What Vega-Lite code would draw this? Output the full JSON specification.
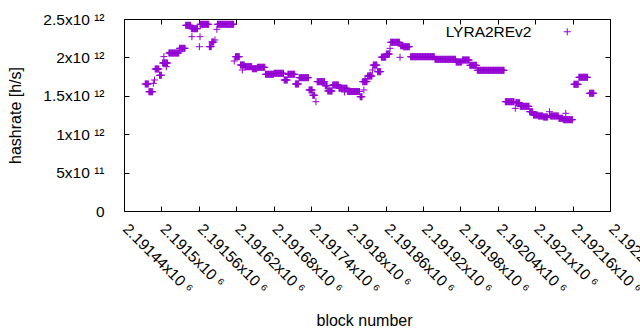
{
"$schema": "https://vega.github.io/schema/vega-lite/v6.json",
"width": 486, "height": 192,
"autosize": {"type": "none"},
"padding": {"left": 124, "top": 19, "right": 30, "bottom": 119},
"background": "white",
"config": {
 "view": {"stroke": "black", "strokeWidth": 1},
 "font": "Liberation Sans",
 "axis": {"domain": false, "grid": false, "tickColor": "black", "tickWidth": 1, "tickSize": -5, "labelColor": "black", "labelFont": "Liberation Sans", "labelFontSize": 15.5, "titleFont": "Liberation Sans", "titleFontSize": 16, "titleFontWeight": "normal", "titleColor": "black"}
},
"data": {"values": [
{"b":2191474,"h":1.654e12},{"b":2191475,"h":1.654e12},{"b":2191476,"h":1.654e12},{"b":2191477,"h":1.654e12},{"b":2191478,"h":1.654e12},{"b":2191479,"h":1.654e12},
{"b":2191480,"h":1.553e12},{"b":2191481,"h":1.553e12},{"b":2191482,"h":1.553e12},{"b":2191483,"h":1.553e12},{"b":2191484,"h":1.553e12},{"b":2191485,"h":1.553e12},{"b":2191486,"h":1.553e12},
{"b":2191487,"h":1.663e12},{"b":2191489,"h":1.706e12},
{"b":2191490,"h":1.849e12},{"b":2191491,"h":1.849e12},{"b":2191492,"h":1.849e12},{"b":2191493,"h":1.849e12},{"b":2191494,"h":1.849e12},{"b":2191495,"h":1.849e12},{"b":2191496,"h":1.849e12},
{"b":2191497,"h":1.767e12},{"b":2191498,"h":1.767e12},{"b":2191499,"h":1.767e12},{"b":2191500,"h":1.767e12},
{"b":2191504,"h":2.01e12},
{"b":2191502,"h":1.927e12},{"b":2191503,"h":1.927e12},{"b":2191504,"h":1.927e12},{"b":2191505,"h":1.927e12},{"b":2191506,"h":1.927e12},{"b":2191507,"h":1.927e12},{"b":2191508,"h":1.927e12},{"b":2191509,"h":1.927e12},{"b":2191510,"h":1.927e12},{"b":2191508,"h":1.879e12},
{"b":2191512,"h":2.057e12},{"b":2191513,"h":2.057e12},{"b":2191514,"h":2.057e12},{"b":2191515,"h":2.057e12},{"b":2191516,"h":2.057e12},{"b":2191517,"h":2.057e12},{"b":2191518,"h":2.057e12},{"b":2191519,"h":2.057e12},{"b":2191520,"h":2.057e12},{"b":2191521,"h":2.057e12},{"b":2191522,"h":2.057e12},{"b":2191523,"h":2.057e12},{"b":2191524,"h":2.057e12},{"b":2191525,"h":2.057e12},{"b":2191526,"h":2.057e12},{"b":2191527,"h":2.057e12},{"b":2191528,"h":2.057e12},
{"b":2191529,"h":2.118e12},{"b":2191530,"h":2.118e12},{"b":2191531,"h":2.118e12},{"b":2191532,"h":2.118e12},{"b":2191533,"h":2.118e12},{"b":2191534,"h":2.118e12},{"b":2191535,"h":2.118e12},{"b":2191536,"h":2.118e12},{"b":2191537,"h":2.118e12},{"b":2191538,"h":2.118e12},
{"b":2191539,"h":2.418e12},{"b":2191540,"h":2.418e12},{"b":2191541,"h":2.418e12},{"b":2191542,"h":2.418e12},{"b":2191543,"h":2.418e12},{"b":2191544,"h":2.418e12},{"b":2191545,"h":2.418e12},{"b":2191546,"h":2.418e12},{"b":2191547,"h":2.418e12},
{"b":2191549,"h":2.27e12},
{"b":2191548,"h":2.374e12},{"b":2191549,"h":2.374e12},{"b":2191550,"h":2.374e12},{"b":2191551,"h":2.374e12},{"b":2191552,"h":2.374e12},{"b":2191553,"h":2.374e12},{"b":2191554,"h":2.374e12},{"b":2191555,"h":2.374e12},{"b":2191556,"h":2.374e12},{"b":2191557,"h":2.374e12},{"b":2191558,"h":2.374e12},
{"b":2191562,"h":2.27e12},{"b":2191561,"h":2.139e12},
{"b":2191562,"h":2.431e12},{"b":2191563,"h":2.431e12},{"b":2191564,"h":2.431e12},{"b":2191565,"h":2.431e12},{"b":2191566,"h":2.431e12},{"b":2191567,"h":2.431e12},{"b":2191568,"h":2.431e12},{"b":2191569,"h":2.431e12},{"b":2191570,"h":2.431e12},{"b":2191571,"h":2.431e12},{"b":2191572,"h":2.431e12},{"b":2191573,"h":2.431e12},{"b":2191574,"h":2.431e12},{"b":2191575,"h":2.431e12},{"b":2191576,"h":2.431e12},
{"b":2191577,"h":2.14e12},{"b":2191578,"h":2.14e12},{"b":2191579,"h":2.14e12},{"b":2191580,"h":2.14e12},
{"b":2191581,"h":2.2e12},{"b":2191582,"h":2.2e12},{"b":2191583,"h":2.2e12},{"b":2191584,"h":2.2e12},
{"b":2191586,"h":2.227e12},{"b":2191589,"h":2.366e12},
{"b":2191590,"h":2.431e12},{"b":2191591,"h":2.431e12},{"b":2191592,"h":2.431e12},{"b":2191593,"h":2.431e12},{"b":2191594,"h":2.431e12},{"b":2191595,"h":2.431e12},{"b":2191596,"h":2.431e12},{"b":2191597,"h":2.431e12},{"b":2191598,"h":2.431e12},{"b":2191599,"h":2.431e12},{"b":2191600,"h":2.431e12},{"b":2191601,"h":2.431e12},{"b":2191602,"h":2.431e12},{"b":2191603,"h":2.431e12},{"b":2191604,"h":2.431e12},{"b":2191605,"h":2.431e12},{"b":2191606,"h":2.431e12},{"b":2191607,"h":2.431e12},{"b":2191608,"h":2.431e12},{"b":2191609,"h":2.431e12},{"b":2191610,"h":2.431e12},{"b":2191611,"h":2.431e12},{"b":2191612,"h":2.431e12},{"b":2191613,"h":2.431e12},{"b":2191614,"h":2.431e12},{"b":2191615,"h":2.431e12},{"b":2191616,"h":2.431e12},
{"b":2191617,"h":1.953e12},
{"b":2191619,"h":2.009e12},{"b":2191620,"h":2.009e12},{"b":2191621,"h":2.009e12},{"b":2191622,"h":2.009e12},{"b":2191623,"h":2.009e12},{"b":2191624,"h":2.009e12},{"b":2191625,"h":2.009e12},
{"b":2191627,"h":1.901e12},{"b":2191628,"h":1.901e12},{"b":2191629,"h":1.901e12},{"b":2191630,"h":1.901e12},{"b":2191631,"h":1.901e12},{"b":2191632,"h":1.901e12},{"b":2191633,"h":1.901e12},{"b":2191630,"h":1.836e12},
{"b":2191634,"h":1.879e12},{"b":2191635,"h":1.879e12},{"b":2191636,"h":1.879e12},{"b":2191637,"h":1.879e12},{"b":2191638,"h":1.879e12},{"b":2191639,"h":1.879e12},{"b":2191640,"h":1.879e12},{"b":2191641,"h":1.879e12},{"b":2191642,"h":1.879e12},{"b":2191643,"h":1.879e12},{"b":2191644,"h":1.879e12},{"b":2191645,"h":1.879e12},
{"b":2191646,"h":1.853e12},{"b":2191647,"h":1.853e12},{"b":2191648,"h":1.853e12},{"b":2191649,"h":1.853e12},{"b":2191650,"h":1.853e12},{"b":2191651,"h":1.853e12},{"b":2191652,"h":1.853e12},{"b":2191653,"h":1.853e12},
{"b":2191654,"h":1.871e12},{"b":2191655,"h":1.871e12},{"b":2191656,"h":1.871e12},{"b":2191657,"h":1.871e12},{"b":2191658,"h":1.871e12},{"b":2191659,"h":1.871e12},{"b":2191660,"h":1.871e12},{"b":2191661,"h":1.871e12},{"b":2191662,"h":1.871e12},{"b":2191663,"h":1.871e12},{"b":2191664,"h":1.871e12},{"b":2191665,"h":1.871e12},{"b":2191666,"h":1.871e12},
{"b":2191667,"h":1.78e12},{"b":2191668,"h":1.78e12},{"b":2191669,"h":1.78e12},{"b":2191670,"h":1.78e12},{"b":2191671,"h":1.78e12},{"b":2191672,"h":1.78e12},{"b":2191673,"h":1.78e12},{"b":2191674,"h":1.78e12},{"b":2191675,"h":1.78e12},{"b":2191676,"h":1.78e12},{"b":2191677,"h":1.78e12},{"b":2191678,"h":1.78e12},{"b":2191679,"h":1.78e12},{"b":2191680,"h":1.78e12},
{"b":2191681,"h":1.793e12},{"b":2191682,"h":1.793e12},{"b":2191683,"h":1.793e12},{"b":2191684,"h":1.793e12},{"b":2191685,"h":1.793e12},{"b":2191686,"h":1.793e12},{"b":2191687,"h":1.793e12},{"b":2191688,"h":1.793e12},{"b":2191689,"h":1.793e12},{"b":2191690,"h":1.793e12},{"b":2191691,"h":1.793e12},{"b":2191692,"h":1.793e12},{"b":2191693,"h":1.793e12},{"b":2191694,"h":1.793e12},{"b":2191695,"h":1.793e12},{"b":2191696,"h":1.793e12},
{"b":2191697,"h":1.706e12},{"b":2191698,"h":1.706e12},{"b":2191699,"h":1.706e12},{"b":2191700,"h":1.706e12},{"b":2191701,"h":1.706e12},{"b":2191702,"h":1.706e12},
{"b":2191703,"h":1.78e12},{"b":2191704,"h":1.78e12},{"b":2191705,"h":1.78e12},{"b":2191706,"h":1.78e12},{"b":2191707,"h":1.78e12},{"b":2191708,"h":1.78e12},{"b":2191709,"h":1.78e12},{"b":2191710,"h":1.78e12},{"b":2191711,"h":1.78e12},{"b":2191712,"h":1.78e12},{"b":2191713,"h":1.78e12},{"b":2191714,"h":1.78e12},
{"b":2191715,"h":1.654e12},{"b":2191716,"h":1.654e12},{"b":2191717,"h":1.654e12},{"b":2191718,"h":1.654e12},{"b":2191719,"h":1.654e12},{"b":2191720,"h":1.654e12},
{"b":2191721,"h":1.736e12},{"b":2191722,"h":1.736e12},{"b":2191723,"h":1.736e12},{"b":2191724,"h":1.736e12},{"b":2191725,"h":1.736e12},{"b":2191726,"h":1.736e12},{"b":2191727,"h":1.736e12},{"b":2191728,"h":1.736e12},{"b":2191729,"h":1.736e12},{"b":2191730,"h":1.736e12},{"b":2191731,"h":1.736e12},{"b":2191732,"h":1.736e12},{"b":2191733,"h":1.736e12},{"b":2191734,"h":1.736e12},{"b":2191735,"h":1.736e12},{"b":2191736,"h":1.736e12},
{"b":2191737,"h":1.576e12},{"b":2191738,"h":1.576e12},{"b":2191739,"h":1.576e12},{"b":2191740,"h":1.576e12},{"b":2191741,"h":1.576e12},{"b":2191742,"h":1.576e12},
{"b":2191743,"h":1.507e12},{"b":2191744,"h":1.507e12},{"b":2191745,"h":1.507e12},{"b":2191746,"h":1.507e12},
{"b":2191748,"h":1.423e12},
{"b":2191750,"h":1.684e12},{"b":2191751,"h":1.684e12},{"b":2191752,"h":1.684e12},{"b":2191753,"h":1.684e12},{"b":2191754,"h":1.684e12},{"b":2191755,"h":1.684e12},{"b":2191756,"h":1.684e12},{"b":2191757,"h":1.684e12},{"b":2191758,"h":1.684e12},{"b":2191759,"h":1.684e12},{"b":2191760,"h":1.684e12},{"b":2191761,"h":1.684e12},{"b":2191762,"h":1.684e12},
{"b":2191763,"h":1.63e12},{"b":2191764,"h":1.63e12},{"b":2191765,"h":1.63e12},{"b":2191766,"h":1.63e12},
{"b":2191767,"h":1.563e12},{"b":2191768,"h":1.563e12},{"b":2191769,"h":1.563e12},{"b":2191770,"h":1.563e12},{"b":2191771,"h":1.563e12},{"b":2191772,"h":1.563e12},{"b":2191773,"h":1.563e12},{"b":2191774,"h":1.563e12},
{"b":2191775,"h":1.641e12},{"b":2191776,"h":1.641e12},{"b":2191777,"h":1.641e12},{"b":2191778,"h":1.641e12},{"b":2191779,"h":1.641e12},{"b":2191780,"h":1.641e12},{"b":2191781,"h":1.641e12},{"b":2191782,"h":1.641e12},{"b":2191783,"h":1.641e12},{"b":2191784,"h":1.641e12},
{"b":2191785,"h":1.598e12},{"b":2191786,"h":1.598e12},{"b":2191787,"h":1.598e12},{"b":2191788,"h":1.598e12},{"b":2191789,"h":1.598e12},{"b":2191790,"h":1.598e12},{"b":2191791,"h":1.598e12},{"b":2191792,"h":1.598e12},{"b":2191793,"h":1.598e12},{"b":2191794,"h":1.598e12},{"b":2191795,"h":1.598e12},{"b":2191796,"h":1.598e12},{"b":2191797,"h":1.598e12},{"b":2191798,"h":1.598e12},{"b":2191794,"h":1.55e12},
{"b":2191799,"h":1.556e12},{"b":2191800,"h":1.556e12},{"b":2191801,"h":1.556e12},{"b":2191802,"h":1.556e12},{"b":2191803,"h":1.556e12},{"b":2191804,"h":1.556e12},{"b":2191805,"h":1.556e12},{"b":2191806,"h":1.556e12},{"b":2191807,"h":1.556e12},{"b":2191808,"h":1.556e12},{"b":2191809,"h":1.556e12},{"b":2191810,"h":1.556e12},{"b":2191811,"h":1.556e12},{"b":2191812,"h":1.556e12},{"b":2191813,"h":1.556e12},{"b":2191814,"h":1.556e12},{"b":2191815,"h":1.556e12},{"b":2191816,"h":1.556e12},{"b":2191817,"h":1.556e12},{"b":2191818,"h":1.556e12},
{"b":2191819,"h":1.488e12},{"b":2191820,"h":1.488e12},{"b":2191821,"h":1.488e12},{"b":2191822,"h":1.488e12},
{"b":2191825,"h":1.576e12},
{"b":2191823,"h":1.684e12},{"b":2191824,"h":1.684e12},{"b":2191825,"h":1.684e12},{"b":2191826,"h":1.684e12},{"b":2191827,"h":1.684e12},{"b":2191828,"h":1.684e12},{"b":2191829,"h":1.684e12},{"b":2191830,"h":1.684e12},{"b":2191827,"h":1.706e12},
{"b":2191831,"h":1.758e12},{"b":2191832,"h":1.758e12},{"b":2191833,"h":1.758e12},{"b":2191834,"h":1.758e12},{"b":2191835,"h":1.758e12},{"b":2191836,"h":1.758e12},{"b":2191837,"h":1.758e12},{"b":2191838,"h":1.758e12},{"b":2191835,"h":1.771e12},{"b":2191839,"h":1.836e12},
{"b":2191840,"h":1.9e12},{"b":2191841,"h":1.9e12},{"b":2191842,"h":1.9e12},{"b":2191843,"h":1.9e12},{"b":2191844,"h":1.9e12},{"b":2191845,"h":1.9e12},{"b":2191846,"h":1.9e12},
{"b":2191847,"h":1.814e12},{"b":2191848,"h":1.814e12},{"b":2191849,"h":1.814e12},{"b":2191850,"h":1.814e12},{"b":2191851,"h":1.814e12},{"b":2191852,"h":1.814e12},
{"b":2191853,"h":2.003e12},{"b":2191854,"h":2.003e12},{"b":2191855,"h":2.003e12},{"b":2191856,"h":2.003e12},{"b":2191857,"h":2.003e12},{"b":2191858,"h":2.003e12},{"b":2191859,"h":2.003e12},{"b":2191860,"h":2.003e12},
{"b":2191861,"h":2.044e12},{"b":2191862,"h":2.044e12},{"b":2191863,"h":2.044e12},{"b":2191864,"h":2.044e12},{"b":2191865,"h":2.044e12},{"b":2191866,"h":2.044e12},
{"b":2191867,"h":2.118e12},
{"b":2191868,"h":2.197e12},{"b":2191869,"h":2.197e12},{"b":2191870,"h":2.197e12},{"b":2191871,"h":2.197e12},{"b":2191872,"h":2.197e12},{"b":2191873,"h":2.197e12},{"b":2191874,"h":2.197e12},{"b":2191875,"h":2.197e12},{"b":2191876,"h":2.197e12},{"b":2191877,"h":2.197e12},{"b":2191878,"h":2.197e12},{"b":2191879,"h":2.197e12},{"b":2191880,"h":2.197e12},{"b":2191881,"h":2.197e12},{"b":2191882,"h":2.197e12},
{"b":2191883,"h":2.001e12},
{"b":2191884,"h":2.151e12},{"b":2191885,"h":2.151e12},{"b":2191886,"h":2.151e12},{"b":2191887,"h":2.151e12},{"b":2191888,"h":2.151e12},
{"b":2191889,"h":2.139e12},{"b":2191890,"h":2.139e12},{"b":2191891,"h":2.139e12},{"b":2191892,"h":2.139e12},{"b":2191893,"h":2.139e12},{"b":2191894,"h":2.139e12},{"b":2191895,"h":2.139e12},{"b":2191896,"h":2.139e12},{"b":2191897,"h":2.139e12},{"b":2191898,"h":2.139e12},
{"b":2191900,"h":2.009e12},{"b":2191901,"h":2.009e12},{"b":2191902,"h":2.009e12},{"b":2191903,"h":2.009e12},{"b":2191904,"h":2.009e12},{"b":2191905,"h":2.009e12},{"b":2191906,"h":2.009e12},{"b":2191907,"h":2.009e12},{"b":2191908,"h":2.009e12},{"b":2191909,"h":2.009e12},{"b":2191910,"h":2.009e12},{"b":2191911,"h":2.009e12},{"b":2191912,"h":2.009e12},{"b":2191913,"h":2.009e12},{"b":2191914,"h":2.009e12},{"b":2191915,"h":2.009e12},{"b":2191916,"h":2.009e12},{"b":2191917,"h":2.009e12},{"b":2191918,"h":2.009e12},{"b":2191919,"h":2.009e12},{"b":2191920,"h":2.009e12},{"b":2191921,"h":2.009e12},{"b":2191922,"h":2.009e12},{"b":2191923,"h":2.009e12},{"b":2191924,"h":2.009e12},{"b":2191925,"h":2.009e12},{"b":2191926,"h":2.009e12},{"b":2191927,"h":2.009e12},{"b":2191928,"h":2.009e12},{"b":2191929,"h":2.009e12},{"b":2191930,"h":2.009e12},{"b":2191931,"h":2.009e12},{"b":2191932,"h":2.009e12},{"b":2191933,"h":2.009e12},{"b":2191934,"h":2.009e12},{"b":2191935,"h":2.009e12},{"b":2191936,"h":2.009e12},{"b":2191937,"h":2.009e12},{"b":2191938,"h":2.009e12},
{"b":2191939,"h":1.975e12},{"b":2191940,"h":1.975e12},{"b":2191941,"h":1.975e12},{"b":2191942,"h":1.975e12},{"b":2191943,"h":1.975e12},{"b":2191944,"h":1.975e12},{"b":2191945,"h":1.975e12},{"b":2191946,"h":1.975e12},{"b":2191947,"h":1.975e12},{"b":2191948,"h":1.975e12},{"b":2191949,"h":1.975e12},{"b":2191950,"h":1.975e12},{"b":2191951,"h":1.975e12},{"b":2191952,"h":1.975e12},{"b":2191953,"h":1.975e12},{"b":2191954,"h":1.975e12},{"b":2191955,"h":1.975e12},{"b":2191956,"h":1.975e12},{"b":2191957,"h":1.975e12},{"b":2191958,"h":1.975e12},{"b":2191959,"h":1.975e12},{"b":2191960,"h":1.975e12},{"b":2191961,"h":1.975e12},{"b":2191962,"h":1.975e12},{"b":2191963,"h":1.975e12},{"b":2191964,"h":1.975e12},{"b":2191965,"h":1.975e12},{"b":2191966,"h":1.975e12},{"b":2191967,"h":1.975e12},{"b":2191968,"h":1.975e12},{"b":2191969,"h":1.975e12},{"b":2191970,"h":1.975e12},{"b":2191971,"h":1.975e12},{"b":2191972,"h":1.975e12},
{"b":2191973,"h":1.94e12},{"b":2191974,"h":1.94e12},{"b":2191975,"h":1.94e12},{"b":2191976,"h":1.94e12},{"b":2191977,"h":1.94e12},{"b":2191978,"h":1.94e12},{"b":2191979,"h":1.94e12},{"b":2191980,"h":1.94e12},{"b":2191981,"h":1.94e12},{"b":2191982,"h":1.94e12},
{"b":2191983,"h":1.966e12},{"b":2191984,"h":1.966e12},{"b":2191985,"h":1.966e12},{"b":2191986,"h":1.966e12},{"b":2191987,"h":1.966e12},{"b":2191988,"h":1.966e12},{"b":2191989,"h":1.966e12},{"b":2191990,"h":1.966e12},{"b":2191991,"h":1.966e12},{"b":2191992,"h":1.966e12},{"b":2191993,"h":1.966e12},{"b":2191994,"h":1.966e12},
{"b":2191995,"h":1.897e12},{"b":2191996,"h":1.897e12},{"b":2191997,"h":1.897e12},{"b":2191998,"h":1.897e12},{"b":2191999,"h":1.897e12},{"b":2192000,"h":1.897e12},{"b":2192001,"h":1.897e12},{"b":2192002,"h":1.897e12},{"b":2192003,"h":1.897e12},{"b":2192004,"h":1.897e12},{"b":2192005,"h":1.897e12},{"b":2192006,"h":1.897e12},
{"b":2192007,"h":1.832e12},{"b":2192008,"h":1.832e12},{"b":2192009,"h":1.832e12},{"b":2192010,"h":1.832e12},{"b":2192011,"h":1.832e12},{"b":2192012,"h":1.832e12},{"b":2192013,"h":1.832e12},{"b":2192014,"h":1.832e12},{"b":2192015,"h":1.832e12},{"b":2192016,"h":1.832e12},{"b":2192017,"h":1.832e12},{"b":2192018,"h":1.832e12},{"b":2192019,"h":1.832e12},{"b":2192020,"h":1.832e12},{"b":2192021,"h":1.832e12},{"b":2192022,"h":1.832e12},{"b":2192023,"h":1.832e12},{"b":2192024,"h":1.832e12},{"b":2192025,"h":1.832e12},{"b":2192026,"h":1.832e12},{"b":2192027,"h":1.832e12},{"b":2192028,"h":1.832e12},{"b":2192029,"h":1.832e12},{"b":2192030,"h":1.832e12},{"b":2192031,"h":1.832e12},{"b":2192032,"h":1.832e12},{"b":2192033,"h":1.832e12},{"b":2192034,"h":1.832e12},{"b":2192035,"h":1.832e12},{"b":2192036,"h":1.832e12},{"b":2192037,"h":1.832e12},{"b":2192038,"h":1.832e12},{"b":2192039,"h":1.832e12},{"b":2192040,"h":1.832e12},{"b":2192041,"h":1.832e12},{"b":2192042,"h":1.832e12},{"b":2192043,"h":1.832e12},{"b":2192044,"h":1.832e12},{"b":2192045,"h":1.832e12},{"b":2192046,"h":1.832e12},{"b":2192047,"h":1.832e12},{"b":2192048,"h":1.832e12},{"b":2192049,"h":1.832e12},{"b":2192050,"h":1.832e12},
{"b":2192052,"h":1.423e12},{"b":2192053,"h":1.423e12},{"b":2192054,"h":1.423e12},{"b":2192055,"h":1.423e12},{"b":2192056,"h":1.423e12},{"b":2192057,"h":1.423e12},{"b":2192058,"h":1.423e12},{"b":2192059,"h":1.423e12},{"b":2192060,"h":1.423e12},{"b":2192061,"h":1.423e12},{"b":2192062,"h":1.423e12},{"b":2192063,"h":1.423e12},{"b":2192064,"h":1.423e12},{"b":2192065,"h":1.423e12},{"b":2192066,"h":1.423e12},
{"b":2192068,"h":1.337e12},
{"b":2192069,"h":1.41e12},{"b":2192070,"h":1.41e12},{"b":2192071,"h":1.41e12},{"b":2192072,"h":1.41e12},{"b":2192073,"h":1.41e12},{"b":2192074,"h":1.41e12},{"b":2192075,"h":1.41e12},
{"b":2192076,"h":1.363e12},{"b":2192077,"h":1.363e12},{"b":2192078,"h":1.363e12},{"b":2192079,"h":1.363e12},{"b":2192080,"h":1.363e12},{"b":2192081,"h":1.363e12},{"b":2192082,"h":1.363e12},{"b":2192083,"h":1.363e12},{"b":2192084,"h":1.363e12},{"b":2192085,"h":1.363e12},{"b":2192086,"h":1.363e12},{"b":2192087,"h":1.363e12},{"b":2192088,"h":1.363e12},{"b":2192089,"h":1.363e12},{"b":2192090,"h":1.363e12},
{"b":2192091,"h":1.293e12},{"b":2192092,"h":1.293e12},{"b":2192093,"h":1.293e12},{"b":2192094,"h":1.293e12},{"b":2192095,"h":1.293e12},{"b":2192096,"h":1.293e12},
{"b":2192097,"h":1.25e12},{"b":2192098,"h":1.25e12},{"b":2192099,"h":1.25e12},{"b":2192100,"h":1.25e12},{"b":2192101,"h":1.25e12},{"b":2192102,"h":1.25e12},{"b":2192103,"h":1.25e12},{"b":2192104,"h":1.25e12},
{"b":2192105,"h":1.237e12},{"b":2192106,"h":1.237e12},{"b":2192107,"h":1.237e12},{"b":2192108,"h":1.237e12},{"b":2192109,"h":1.237e12},{"b":2192110,"h":1.237e12},{"b":2192111,"h":1.237e12},{"b":2192112,"h":1.237e12},
{"b":2192113,"h":1.224e12},{"b":2192114,"h":1.224e12},{"b":2192115,"h":1.224e12},{"b":2192116,"h":1.224e12},{"b":2192117,"h":1.224e12},{"b":2192118,"h":1.224e12},{"b":2192119,"h":1.224e12},{"b":2192120,"h":1.224e12},
{"b":2192123,"h":1.293e12},
{"b":2192124,"h":1.237e12},{"b":2192125,"h":1.237e12},{"b":2192126,"h":1.237e12},{"b":2192127,"h":1.237e12},{"b":2192128,"h":1.237e12},{"b":2192129,"h":1.237e12},{"b":2192130,"h":1.237e12},{"b":2192131,"h":1.237e12},{"b":2192132,"h":1.237e12},{"b":2192133,"h":1.237e12},{"b":2192134,"h":1.237e12},{"b":2192135,"h":1.237e12},{"b":2192136,"h":1.237e12},{"b":2192137,"h":1.237e12},
{"b":2192138,"h":1.207e12},{"b":2192139,"h":1.207e12},{"b":2192140,"h":1.207e12},{"b":2192141,"h":1.207e12},{"b":2192142,"h":1.207e12},{"b":2192143,"h":1.207e12},{"b":2192144,"h":1.207e12},
{"b":2192149,"h":1.272e12},
{"b":2192145,"h":1.189e12},{"b":2192146,"h":1.189e12},{"b":2192147,"h":1.189e12},{"b":2192148,"h":1.189e12},{"b":2192149,"h":1.189e12},{"b":2192150,"h":1.189e12},{"b":2192151,"h":1.189e12},{"b":2192152,"h":1.189e12},{"b":2192153,"h":1.189e12},{"b":2192154,"h":1.189e12},{"b":2192155,"h":1.189e12},{"b":2192156,"h":1.189e12},{"b":2192157,"h":1.189e12},{"b":2192158,"h":1.189e12},{"b":2192159,"h":1.189e12},{"b":2192160,"h":1.189e12},
{"b":2192162,"h":1.65e12},{"b":2192163,"h":1.65e12},{"b":2192164,"h":1.65e12},{"b":2192165,"h":1.65e12},{"b":2192166,"h":1.65e12},{"b":2192167,"h":1.65e12},{"b":2192168,"h":1.65e12},{"b":2192169,"h":1.65e12},
{"b":2192170,"h":1.741e12},{"b":2192171,"h":1.741e12},{"b":2192172,"h":1.741e12},{"b":2192173,"h":1.741e12},{"b":2192174,"h":1.741e12},{"b":2192175,"h":1.741e12},{"b":2192176,"h":1.741e12},{"b":2192177,"h":1.741e12},{"b":2192178,"h":1.741e12},{"b":2192179,"h":1.741e12},{"b":2192180,"h":1.741e12},{"b":2192181,"h":1.741e12},{"b":2192182,"h":1.741e12},{"b":2192183,"h":1.741e12},{"b":2192184,"h":1.741e12},
{"b":2192187,"h":1.533e12},{"b":2192188,"h":1.533e12},{"b":2192189,"h":1.533e12},{"b":2192190,"h":1.533e12},{"b":2192191,"h":1.533e12},{"b":2192192,"h":1.533e12},{"b":2192193,"h":1.533e12},{"b":2192194,"h":1.533e12}
]},
"layer": [
 {
  "mark": {"type": "point", "shape": "M-1,0L1,0M0,-1L0,1", "size": 49, "strokeWidth": 1, "filled": false, "opacity": 1},
  "encoding": {
   "x": {"field": "b", "type": "quantitative",
     "scale": {"domain": [2191440, 2192220], "nice": false, "zero": false},
     "axis": {"orient": "bottom", "values": [2191440,2191500,2191560,2191620,2191680,2191740,2191800,2191860,2191920,2191980,2192040,2192100,2192160,2192220],
       "labelExpr": "format(datum.value/1e6,'.5~f')+'x10 ⁶'", "labelAngle": 45, "labelAlign": "left", "labelBaseline": "top",
       "labelOverlap": false, "labelBound": false, "labelFlush": false, "labelPadding": 15, "labelOffset": 6,
       "title": "block number", "titleX": 240, "titleY": 114, "titleBaseline": "alphabetic", "titleAlign": "center"}},
   "y": {"field": "h", "type": "quantitative",
     "scale": {"domain": [0, 2.5e12], "nice": false},
     "axis": {"orient": "left", "values": [0, 5e11, 1e12, 1.5e12, 2e12, 2.5e12],
       "labelExpr": "datum.value==0?'0':(datum.value<1e12?'5x10 ¹¹':format(datum.value/1e12,'~g')+'x10 ¹²')",
       "labelPadding": 25, "labelBaseline": "middle",
       "title": "hashrate [h/s]", "titleX": -103.5, "titleY": 96, "titleAngle": -90, "titleBaseline": "alphabetic", "titleAlign": "center"}},
   "color": {"datum": "LYRA2REv2", "type": "nominal", "scale": {"range": ["#9400d3"]},
     "legend": {"orient": "none", "legendX": 435.5, "legendY": 5, "title": null, "padding": 0,
       "labelAlign": "right", "labelOffset": -43.5, "symbolType": "M-1,0L1,0M0,-1L0,1", "symbolSize": 49, "symbolStrokeWidth": 1,
       "labelFontSize": 15.5, "labelFont": "Liberation Sans", "labelColor": "black", "labelLimit": 300}}
  }
 },
 {
  "mark": {"type": "point", "opacity": 0},
  "encoding": {
   "x": {"field": "b", "type": "quantitative", "scale": {"domain": [2191440, 2192220], "nice": false, "zero": false},
     "axis": {"orient": "top", "labels": false, "title": null, "values": [2191440,2191500,2191560,2191620,2191680,2191740,2191800,2191860,2191920,2191980,2192040,2192100,2192160,2192220]}},
   "y": {"field": "h", "type": "quantitative", "scale": {"domain": [0, 2.5e12], "nice": false},
     "axis": {"orient": "right", "labels": false, "title": null, "values": [0, 5e11, 1e12, 1.5e12, 2e12, 2.5e12]}}
  }
 }
],
"resolve": {"axis": {"x": "independent", "y": "independent"}}
}
